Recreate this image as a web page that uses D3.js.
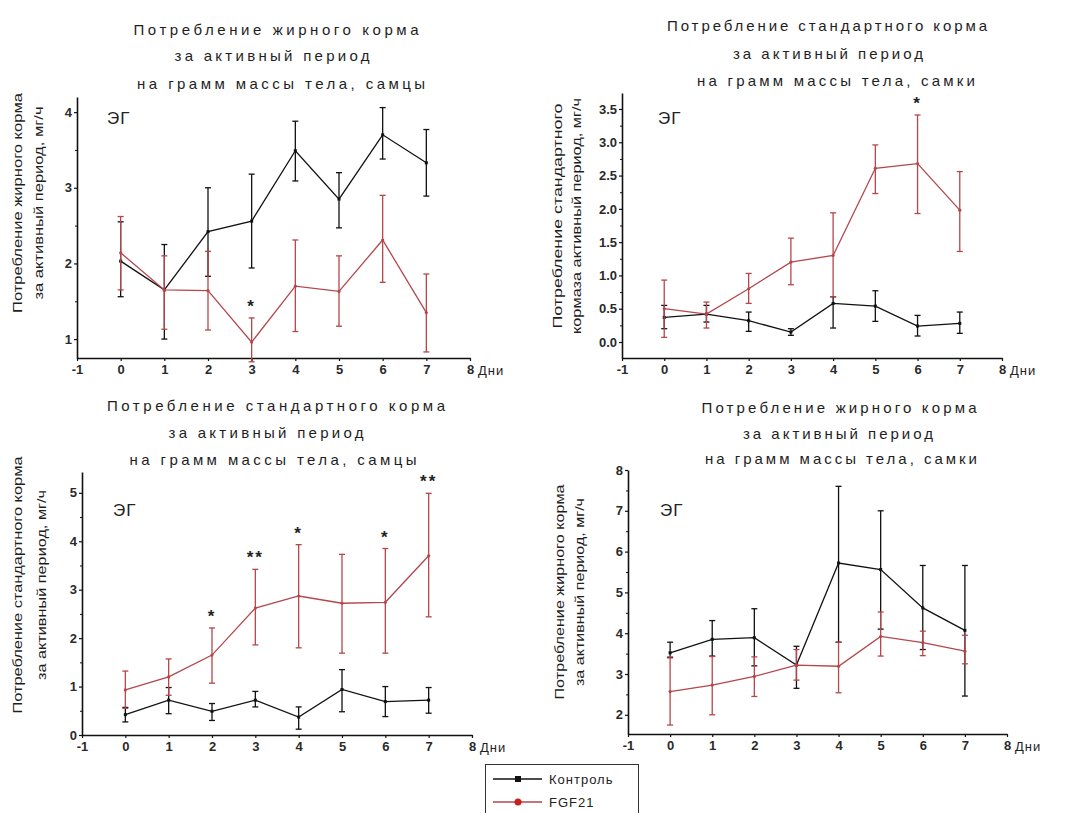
<!DOCTYPE html>
<html>
<head>
<meta charset="utf-8">
<script src="https://cdn.jsdelivr.net/npm/d3@7"></script>
<style>
  body { margin: 0; background: #fff; }
  svg { display: block; }
  text { font-family: Arial, "Liberation Sans", sans-serif; }
</style>
</head>
<body>
<svg id="chart" width="1072" height="813"></svg>
<script>
// days of the experiment and x axis ticks
const days = [0, 1, 2, 3, 4, 5, 6, 7];
const xTicks = [-1, 0, 1, 2, 3, 4, 5, 6, 7, 8];
const seriesNames = ["Контроль", "FGF21"];

// fat food, males (top left)
const fatMalesCtrl = [2.03, 1.65, 2.42, 2.56, 3.49, 2.85, 3.70, 3.33];
const fatMalesCtrlLow = [1.56, 1.00, 1.83, 1.94, 3.09, 2.47, 3.38, 2.89];
const fatMalesCtrlHigh = [2.55, 2.25, 3.00, 3.18, 3.88, 3.20, 4.06, 3.77];
const fatMalesFgf = [2.14, 1.65, 1.64, 0.96, 1.70, 1.63, 2.31, 1.35];
const fatMalesFgfLow = [1.65, 1.13, 1.12, 0.70, 1.10, 1.17, 1.75, 0.83];
const fatMalesFgfHigh = [2.62, 2.10, 2.16, 1.28, 2.31, 2.10, 2.90, 1.86];
const fatMalesStars = ["", "", "", "*", "", "", "", ""];
const fatMalesTicks = [1, 2, 3, 4];

// standard food, females (top right)
const stdFemalesCtrl = [0.37, 0.42, 0.32, 0.15, 0.58, 0.54, 0.24, 0.28];
const stdFemalesCtrlLow = [0.20, 0.30, 0.16, 0.10, 0.21, 0.31, 0.09, 0.13];
const stdFemalesCtrlHigh = [0.55, 0.55, 0.45, 0.20, 0.68, 0.77, 0.40, 0.45];
const stdFemalesFgf = [0.50, 0.42, 0.80, 1.20, 1.30, 2.61, 2.68, 1.98];
const stdFemalesFgfLow = [0.07, 0.21, 0.58, 0.86, 0.68, 2.23, 1.93, 1.36];
const stdFemalesFgfHigh = [0.93, 0.60, 1.03, 1.56, 1.94, 2.96, 3.41, 2.56];
const stdFemalesStars = ["", "", "", "", "", "", "*", ""];
const stdFemalesTicks = [0, 0.5, 1, 1.5, 2, 2.5, 3, 3.5];

// standard food, males (bottom left)
const stdMalesCtrl = [0.42, 0.72, 0.49, 0.72, 0.37, 0.94, 0.69, 0.72];
const stdMalesCtrlLow = [0.27, 0.44, 0.30, 0.58, 0.12, 0.48, 0.38, 0.45];
const stdMalesCtrlHigh = [0.57, 0.98, 0.65, 0.90, 0.58, 1.35, 1.00, 0.98];
const stdMalesFgf = [0.93, 1.20, 1.65, 2.62, 2.87, 2.72, 2.74, 3.70];
const stdMalesFgfLow = [0.55, 0.82, 1.07, 1.86, 1.80, 1.69, 1.69, 2.44];
const stdMalesFgfHigh = [1.32, 1.57, 2.21, 3.42, 3.93, 3.73, 3.85, 4.99];
const stdMalesStars = ["", "", "*", "**", "*", "", "*", "**"];
const stdMalesTicks = [0, 1, 2, 3, 4, 5];

// fat food, females (bottom right)
const fatFemalesCtrl = [3.52, 3.85, 3.89, 3.22, 5.72, 5.56, 4.62, 4.07];
const fatFemalesCtrlLow = [3.40, 3.44, 3.20, 2.65, 3.78, 4.10, 3.60, 2.46];
const fatFemalesCtrlHigh = [3.78, 4.31, 4.60, 3.68, 7.60, 7.00, 5.66, 5.66];
const fatFemalesFgf = [2.57, 2.73, 2.94, 3.22, 3.19, 3.92, 3.77, 3.56];
const fatFemalesFgfLow = [1.75, 2.00, 2.45, 2.85, 2.54, 3.44, 3.45, 3.25];
const fatFemalesFgfHigh = [3.42, 3.43, 3.42, 3.60, 3.78, 4.52, 4.05, 3.95];
const fatFemalesStars = ["", "", "", "", "", "", "", ""];
const fatFemalesTicks = [2, 3, 4, 5, 6, 7, 8];

const ctrlColor = "#111";
const fgfColor = "#b5464b";

const svg = d3.select("#chart");

const panels = [
  {
    title: ["Потребление жирного корма", "за активный период", "на грамм массы тела, самцы"],
    titleX: [276, 272, 281], titleY: [29, 55, 83], titleW: [285, 195, 288],
    yLabel: ["Потребление жирного корма", "за активный период, мг/ч"],
    yLabelX: [18, 39], yLabelY: 203, yLabelW: [220, 193],
    left: 77, right: 470, top: 97, bottom: 358,
    yDomain: [0.75, 4.2], yTicks: fatMalesTicks, minor: 0.5, fmt: d => String(d),
    ctrl: [fatMalesCtrl, fatMalesCtrlLow, fatMalesCtrlHigh],
    fgf: [fatMalesFgf, fatMalesFgfLow, fatMalesFgfHigh],
    stars: fatMalesStars, egX: 107, egY: 118
  },
  {
    title: ["Потребление стандартного корма", "за активный период", "на грамм массы тела, самки"],
    titleX: [827, 828, 836], titleY: [25, 53, 80], titleW: [320, 190, 278],
    yLabel: ["Потребление стандартного", "кормаза активный период, мг/ч"],
    yLabelX: [558, 577], yLabelY: 216, yLabelW: [225, 236],
    left: 622, right: 1002, top: 93, bottom: 358,
    yDomain: [-0.24, 3.74], yTicks: stdFemalesTicks, minor: 0.25, fmt: d3.format(".1f"),
    ctrl: [stdFemalesCtrl, stdFemalesCtrlLow, stdFemalesCtrlHigh],
    fgf: [stdFemalesFgf, stdFemalesFgfLow, stdFemalesFgfHigh],
    stars: stdFemalesStars, egX: 658, egY: 118
  },
  {
    title: ["Потребление стандартного корма", "за активный период", "на грамм массы тела, самцы"],
    titleX: [276, 266, 273], titleY: [405, 432, 459], titleW: [338, 195, 287],
    yLabel: ["Потребление стандартного корма", "за активный период, мг/ч"],
    yLabelX: [18, 42], yLabelY: 585, yLabelW: [257, 190],
    left: 82, right: 472, top: 472, bottom: 735,
    yDomain: [0, 5.43], yTicks: stdMalesTicks, minor: 0.5, fmt: d => String(d),
    ctrl: [stdMalesCtrl, stdMalesCtrlLow, stdMalesCtrlHigh],
    fgf: [stdMalesFgf, stdMalesFgfLow, stdMalesFgfHigh],
    stars: stdMalesStars, egX: 113, egY: 510
  },
  {
    title: ["Потребление жирного корма", "за активный период", "на грамм массы тела, самки"],
    titleX: [839, 838, 841], titleY: [407, 433, 458], titleW: [275, 190, 272],
    yLabel: ["Потребление жирного корма", "за активный период, мг/ч"],
    yLabelX: [560, 580], yLabelY: 592, yLabelW: [215, 188],
    left: 628, right: 1007, top: 470, bottom: 734,
    yDomain: [1.53, 8.0], yTicks: fatFemalesTicks, minor: 0.5, fmt: d => String(d),
    ctrl: [fatFemalesCtrl, fatFemalesCtrlLow, fatFemalesCtrlHigh],
    fgf: [fatFemalesFgf, fatFemalesFgfLow, fatFemalesFgfHigh],
    stars: fatFemalesStars, egX: 660, egY: 510
  }
];

function drawPanel(p) {
  const g = svg.append("g");

  const x = d3.scaleLinear().domain([-1, 8]).range([p.left, p.right]);
  const y = d3.scaleLinear().domain(p.yDomain).range([p.bottom, p.top]);

  // title, three lines
  p.title.forEach((t, i) => {
    g.append("text")
      .attr("x", p.titleX[i]).attr("y", p.titleY[i])
      .attr("text-anchor", "middle").attr("dominant-baseline", "central")
      .attr("font-size", 15).attr("fill", "#1e1e1e")
      .attr("textLength", p.titleW[i]).attr("lengthAdjust", "spacing")
      .text(t);
  });

  // rotated y label, two lines
  p.yLabel.forEach((t, i) => {
    g.append("text")
      .attr("transform", `translate(${p.yLabelX[i]},${p.yLabelY}) rotate(-90)`)
      .attr("text-anchor", "middle").attr("dominant-baseline", "central")
      .attr("font-size", 12).attr("fill", "#1e1e1e")
      .attr("textLength", p.yLabelW[i]).attr("lengthAdjust", "spacingAndGlyphs")
      .text(t);
  });

  // minor y ticks between the labelled ones
  const minorTicks = d3.range(p.yTicks[0] - p.minor, p.yDomain[1], p.minor)
    .filter(v => v >= p.yDomain[0] && !p.yTicks.some(t => Math.abs(t - v) < 1e-6));
  g.append("g")
    .attr("transform", `translate(${p.left},0)`)
    .call(d3.axisLeft(y).tickValues(minorTicks).tickSize(2).tickSizeOuter(0).tickFormat(""))
    .call(a => a.select(".domain").remove())
    .selectAll("line").attr("stroke", "#111");

  // axes
  const xAxis = g.append("g")
    .attr("transform", `translate(0,${p.bottom})`)
    .call(d3.axisBottom(x).tickValues(xTicks).tickSize(3).tickSizeOuter(0).tickPadding(4).tickFormat(d => String(d)));
  const yAxis = g.append("g")
    .attr("transform", `translate(${p.left},0)`)
    .call(d3.axisLeft(y).tickValues(p.yTicks).tickSize(3).tickSizeOuter(0).tickPadding(2).tickFormat(p.fmt));
  [xAxis, yAxis].forEach(a => {
    a.attr("font-family", "Arial, 'Liberation Sans', sans-serif")
      .attr("font-size", 13).attr("font-weight", "bold");
    a.select(".domain").attr("stroke", "#111").attr("stroke-width", 1.6);
    a.selectAll(".tick line").attr("stroke", "#111").attr("stroke-width", 1.2);
    a.selectAll(".tick text").attr("fill", "#2a2a2a");
  });

  g.append("text")
    .attr("x", p.right + 8).attr("y", p.bottom + 17)
    .attr("font-size", 13).attr("fill", "#222").attr("letter-spacing", 1)
    .text("Дни");

  g.append("text")
    .attr("x", p.egX).attr("y", p.egY)
    .attr("dominant-baseline", "central")
    .attr("font-size", 17).attr("fill", "#222").attr("letter-spacing", 1)
    .text("ЭГ");

  // series: control then FGF21
  const series = [
    { vals: p.ctrl, color: ctrlColor, marker: "square" },
    { vals: p.fgf, color: fgfColor, marker: "circle" }
  ];
  series.forEach(s => {
    const [mean, low, high] = s.vals;
    const pts = days.map((d, i) => ({ d, m: mean[i], lo: low[i], hi: high[i] }));
    const sg = g.append("g");

    sg.selectAll("line.err")
      .data(pts).enter().append("line")
      .attr("class", "err")
      .attr("x1", v => x(v.d)).attr("x2", v => x(v.d))
      .attr("y1", v => y(v.lo)).attr("y2", v => y(v.hi))
      .attr("stroke", s.color).attr("stroke-width", 1.3);
    ["lo", "hi"].forEach(k => {
      sg.selectAll("line.cap-" + k)
        .data(pts).enter().append("line")
        .attr("class", "cap-" + k)
        .attr("x1", v => x(v.d) - 3).attr("x2", v => x(v.d) + 3)
        .attr("y1", v => y(v[k])).attr("y2", v => y(v[k]))
        .attr("stroke", s.color).attr("stroke-width", 1.3);
    });

    sg.append("path")
      .datum(pts)
      .attr("fill", "none").attr("stroke", s.color).attr("stroke-width", 1.3)
      .attr("d", d3.line().x(v => x(v.d)).y(v => y(v.m)));

    if (s.marker === "square") {
      sg.selectAll("rect").data(pts).enter().append("rect")
        .attr("x", v => x(v.d) - 1.5).attr("y", v => y(v.m) - 1.5)
        .attr("width", 3).attr("height", 3).attr("fill", s.color);
    } else {
      sg.selectAll("circle").data(pts).enter().append("circle")
        .attr("cx", v => x(v.d)).attr("cy", v => y(v.m)).attr("r", 1.6)
        .attr("fill", s.color);
    }
  });

  // significance stars above the FGF21 error bars
  const fgfHigh = p.fgf[2];
  g.selectAll("text.star")
    .data(days.filter((d, i) => p.stars[i] !== ""))
    .enter().append("text")
    .attr("class", "star")
    .attr("x", d => x(d)).attr("y", d => y(fgfHigh[days.indexOf(d)]) - 6)
    .attr("text-anchor", "middle")
    .attr("font-size", 17).attr("font-weight", "bold").attr("fill", "#222").attr("letter-spacing", 2)
    .text(d => p.stars[days.indexOf(d)]);
}

panels.forEach(drawPanel);

// legend
const legend = svg.append("g");
legend.append("rect")
  .attr("x", 485.5).attr("y", 764.5).attr("width", 153).attr("height", 60)
  .attr("fill", "#fff").attr("stroke", "#333").attr("stroke-width", 1);
seriesNames.forEach((name, i) => {
  const color = i === 0 ? ctrlColor : fgfColor;
  const cy = 779 + i * 23;
  legend.append("line")
    .attr("x1", 493).attr("x2", 542).attr("y1", cy).attr("y2", cy)
    .attr("stroke", color).attr("stroke-width", 1.3);
  if (i === 0) {
    legend.append("rect").attr("x", 515).attr("y", cy - 3).attr("width", 6).attr("height", 6).attr("fill", color);
  } else {
    legend.append("circle").attr("cx", 518).attr("cy", cy).attr("r", 3.5).attr("fill", "#c81e1e");
  }
  legend.append("text")
    .attr("x", 549).attr("y", cy).attr("dominant-baseline", "central")
    .attr("font-size", 13).attr("fill", "#222").attr("letter-spacing", 1)
    .text(name);
});
</script>
</body>
</html>
